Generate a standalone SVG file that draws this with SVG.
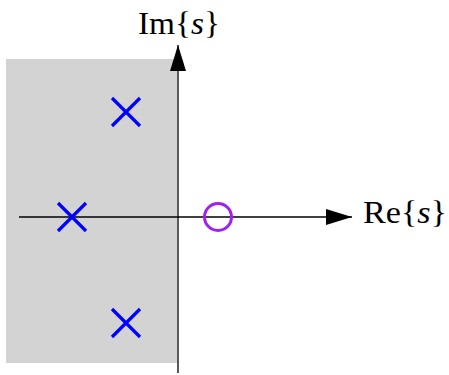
<svg xmlns="http://www.w3.org/2000/svg" width="449" height="375" viewBox="0 0 449 375">
<style>
.axis{stroke:#000;stroke-width:1.3;fill:none}
.x{stroke:#0000ff;stroke-width:3.2;fill:none}
.lbl{font-family:"Liberation Serif","Times New Roman",serif;font-size:32px;fill:#000}
.it{font-style:italic}
</style>
<defs>
<marker id="arr" markerUnits="userSpaceOnUse" markerWidth="26" markerHeight="16" refX="26" refY="8" orient="auto">
<path d="M0,0 L26,8 L0,16 Z" fill="#000"/>
</marker>
</defs>
<g id="region"><rect x="6" y="59" width="171" height="304" fill="#d3d3d3"/></g>
<g id="connectors">
<line class="axis" x1="19" y1="217" x2="352" y2="217" marker-end="url(#arr)"/>
<line class="axis" x1="178" y1="373" x2="178" y2="45" marker-end="url(#arr)"/>
</g>
<g id="pole1"><path class="x" d="M112,98 L140,126 M140,98 L112,126"/></g>
<g id="pole2"><path class="x" d="M58,203 L86,231 M86,203 L58,231"/></g>
<g id="pole3"><path class="x" d="M112,309 L140,337 M140,309 L112,337"/></g>
<g id="zero"><circle cx="218" cy="217" r="13.5" fill="none" stroke="#a020f0" stroke-width="3"/></g>
<g id="imlabel"><text class="lbl" x="138" y="34" textLength="82" lengthAdjust="spacingAndGlyphs">Im{<tspan class="it">s</tspan>}</text></g>
<g id="relabel"><text class="lbl" x="363" y="223" textLength="84" lengthAdjust="spacingAndGlyphs">Re{<tspan class="it">s</tspan>}</text></g>
</svg>
